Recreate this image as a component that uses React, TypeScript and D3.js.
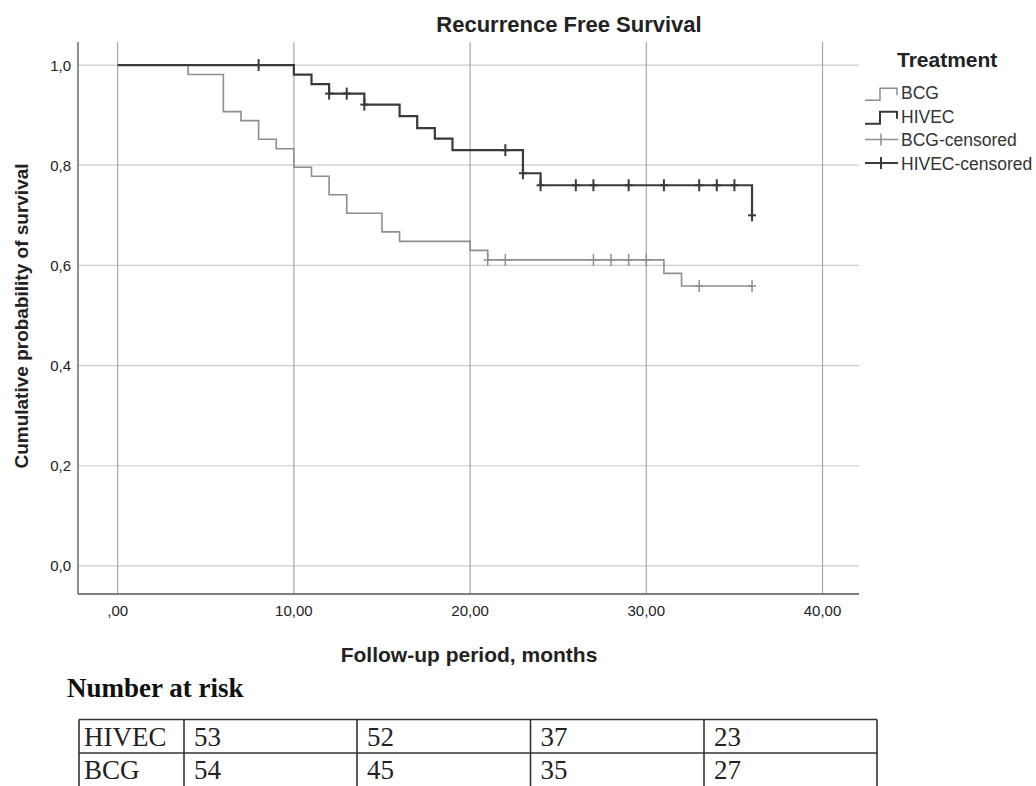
import React from "react";
import * as d3 from "d3";

// ---------- data ----------
const bcgTimes = [0, 4, 6, 7, 8, 9, 10, 11, 12, 13, 15, 16, 20, 21, 31, 32, 36];
const bcgSurv = [1, 0.981, 0.907, 0.889, 0.852, 0.833, 0.796, 0.778, 0.741, 0.704, 0.667, 0.648, 0.63, 0.611, 0.584, 0.559, 0.559];
const bcgCensored = [21, 22, 27, 28, 29, 30, 33, 36];

const hivecTimes = [0, 10, 11, 12, 14, 16, 17, 18, 19, 23, 24, 36];
const hivecSurv = [1, 0.981, 0.962, 0.943, 0.921, 0.898, 0.874, 0.853, 0.83, 0.784, 0.76, 0.7];
const hivecCensored = [8, 12, 13, 14, 22, 23, 24, 26, 27, 29, 31, 33, 34, 35, 36];

const xTicks = [0, 10, 20, 30, 40];
const xTickLabels = [",00", "10,00", "20,00", "30,00", "40,00"];
const yTicks = [0, 0.2, 0.4, 0.6, 0.8, 1.0];
const yTickLabels = ["0,0", "0,2", "0,4", "0,6", "0,8", "1,0"];

const legendLabels = ["BCG", "HIVEC", "BCG-censored", "HIVEC-censored"];

const riskGroups = ["HIVEC", "BCG"];
const riskHivec = [53, 52, 37, 23];
const riskBcg = [54, 45, 35, 27];

// ---------- styles ----------
const SANS = "'Liberation Sans', Arial, sans-serif";
const SERIF = "'Liberation Serif', 'Times New Roman', serif";
const BCG_COLOR = "#8e8e8e";
const HIVEC_COLOR = "#3a3a3a";

export default function App() {
  const W = 1036;
  const H = 786;
  const plotL = 78, plotR = 859, plotT = 42, plotB = 594;

  const x = d3.scaleLinear().domain([-2.25, 42.07]).range([plotL, plotR]);
  const y = d3.scaleLinear().domain([-0.056, 1.046]).range([plotB, plotT]);

  const bcgPts: [number, number][] = bcgTimes.map((t, i) => [t, bcgSurv[i]]);
  const hivecPts: [number, number][] = hivecTimes.map((t, i) => [t, hivecSurv[i]]);

  const stepLine = d3
    .line<[number, number]>()
    .x((d) => x(d[0]))
    .y((d) => y(d[1]))
    .curve(d3.curveStepAfter);

  const survAt = (times: number[], surv: number[], t: number) => {
    let s = surv[0];
    for (let i = 0; i < times.length; i++) if (times[i] <= t) s = surv[i];
    return s;
  };

  const censorMarks = (times: number[], surv: number[], cens: number[], color: string, sw: number, key: string) =>
    cens.map((t, i) => {
      const cx = x(t);
      const cy = y(survAt(times, surv, t));
      return (
        <g key={key + i} stroke={color} strokeWidth={sw}>
          <line x1={cx} x2={cx} y1={cy - 6} y2={cy + 6} />
          <line x1={cx - 4} x2={cx + 4} y1={cy} y2={cy} />
        </g>
      );
    });

  // table geometry
  const colEdges = [79, 184, 357, 530.5, 704, 877];
  const rowEdges = [719.5, 753, 787];
  const riskRows = [riskHivec, riskBcg];

  const legendX = 865;
  const legendBase0 = 99.3;
  const legendDy = 23.4;

  return (
    <svg width={W} height={H} style={{ position: "absolute", left: 0, top: 0, background: "#fff" }}>
      <rect x={0} y={0} width={W} height={H} fill="#fff" />
      {/* title */}
      <text x={569} y={31.5} textAnchor="middle" fontFamily={SANS} fontWeight="bold" fontSize={22} fill="#222">
        Recurrence Free Survival
      </text>

      {/* horizontal gridlines */}
      {yTicks.map((v, i) => (
        <line key={"hg" + i} x1={plotL} x2={plotR} y1={y(v)} y2={y(v)} stroke="#cbcbcb" strokeWidth={1.2} />
      ))}
      {/* vertical gridlines */}
      {xTicks.map((v, i) => (
        <line key={"vg" + i} x1={x(v)} x2={x(v)} y1={plotT} y2={plotB} stroke="#a8a8a8" strokeWidth={1.2} />
      ))}
      {/* axes */}
      <line x1={plotL} x2={plotL} y1={plotT} y2={plotB} stroke="#555" strokeWidth={1.3} />
      <line x1={plotL} x2={plotR} y1={plotB} y2={plotB} stroke="#555" strokeWidth={1.3} />

      {/* tick labels */}
      {yTicks.map((v, i) => (
        <text key={"yt" + i} x={71} y={y(v) + 5.5} textAnchor="end" fontFamily={SANS} fontSize={15} fill="#222">
          {yTickLabels[i]}
        </text>
      ))}
      {xTicks.map((v, i) => (
        <text key={"xt" + i} x={x(v)} y={616} textAnchor="middle" fontFamily={SANS} fontSize={15} fill="#222">
          {xTickLabels[i]}
        </text>
      ))}

      {/* axis titles */}
      <text x={469} y={662} textAnchor="middle" fontFamily={SANS} fontWeight="bold" fontSize={21} fill="#222">
        Follow-up period, months
      </text>
      <text
        transform="translate(28,316) rotate(-90)"
        textAnchor="middle"
        fontFamily={SANS}
        fontWeight="bold"
        fontSize={19}
        fill="#222"
      >
        Cumulative probability of survival
      </text>

      {/* curves */}
      <path d={stepLine(bcgPts) || ""} fill="none" stroke={BCG_COLOR} strokeWidth={1.6} />
      <path d={stepLine(hivecPts) || ""} fill="none" stroke={HIVEC_COLOR} strokeWidth={2.2} />
      {censorMarks(bcgTimes, bcgSurv, bcgCensored, BCG_COLOR, 1.5, "bc")}
      {censorMarks(hivecTimes, hivecSurv, hivecCensored, HIVEC_COLOR, 2, "hc")}

      {/* legend */}
      <text x={897} y={66.7} fontFamily={SANS} fontWeight="bold" fontSize={21} fill="#222">
        Treatment
      </text>
      {legendLabels.map((lab, i) => {
        const b = legendBase0 + i * legendDy;
        const color = i % 2 === 0 ? BCG_COLOR : HIVEC_COLOR;
        const sw = i % 2 === 0 ? 1.5 : 2;
        return (
          <g key={"lg" + i}>
            {i < 2 ? (
              <path
                d={`M${legendX},${b + 1}H${legendX + 15}V${b - 11}H${legendX + 32}V${b - 4}`}
                fill="none"
                stroke={color}
                strokeWidth={sw}
              />
            ) : (
              <g stroke={color} strokeWidth={sw}>
                <line x1={legendX} x2={legendX + 33} y1={b - 6.5} y2={b - 6.5} />
                <line x1={legendX + 16} x2={legendX + 16} y1={b - 12.5} y2={b - 0.5} />
              </g>
            )}
            <text x={901} y={b} fontFamily={SANS} fontSize={17.5} fill="#333">
              {lab}
            </text>
          </g>
        );
      })}

      {/* number at risk */}
      <text x={67} y={697} fontFamily={SERIF} fontWeight="bold" fontSize={27} fill="#111">
        Number at risk
      </text>
      <g stroke="#333" strokeWidth={1.6}>
        {rowEdges.map((ry, i) => (
          <line key={"rh" + i} x1={colEdges[0]} x2={colEdges[colEdges.length - 1]} y1={ry} y2={ry} />
        ))}
        {colEdges.map((cx, i) => (
          <line key={"cv" + i} x1={cx} x2={cx} y1={rowEdges[0]} y2={rowEdges[rowEdges.length - 1]} />
        ))}
      </g>
      {riskGroups.map((g, r) => (
        <g key={"rr" + r} fontFamily={SERIF} fontSize={27} fill="#222">
          <text x={colEdges[0] + 5} y={rowEdges[r] + 26}>
            {g}
          </text>
          {riskRows[r].map((n, c) => (
            <text key={"rc" + c} x={colEdges[c + 1] + 10} y={rowEdges[r] + 26}>
              {n}
            </text>
          ))}
        </g>
      ))}
    </svg>
  );
}
